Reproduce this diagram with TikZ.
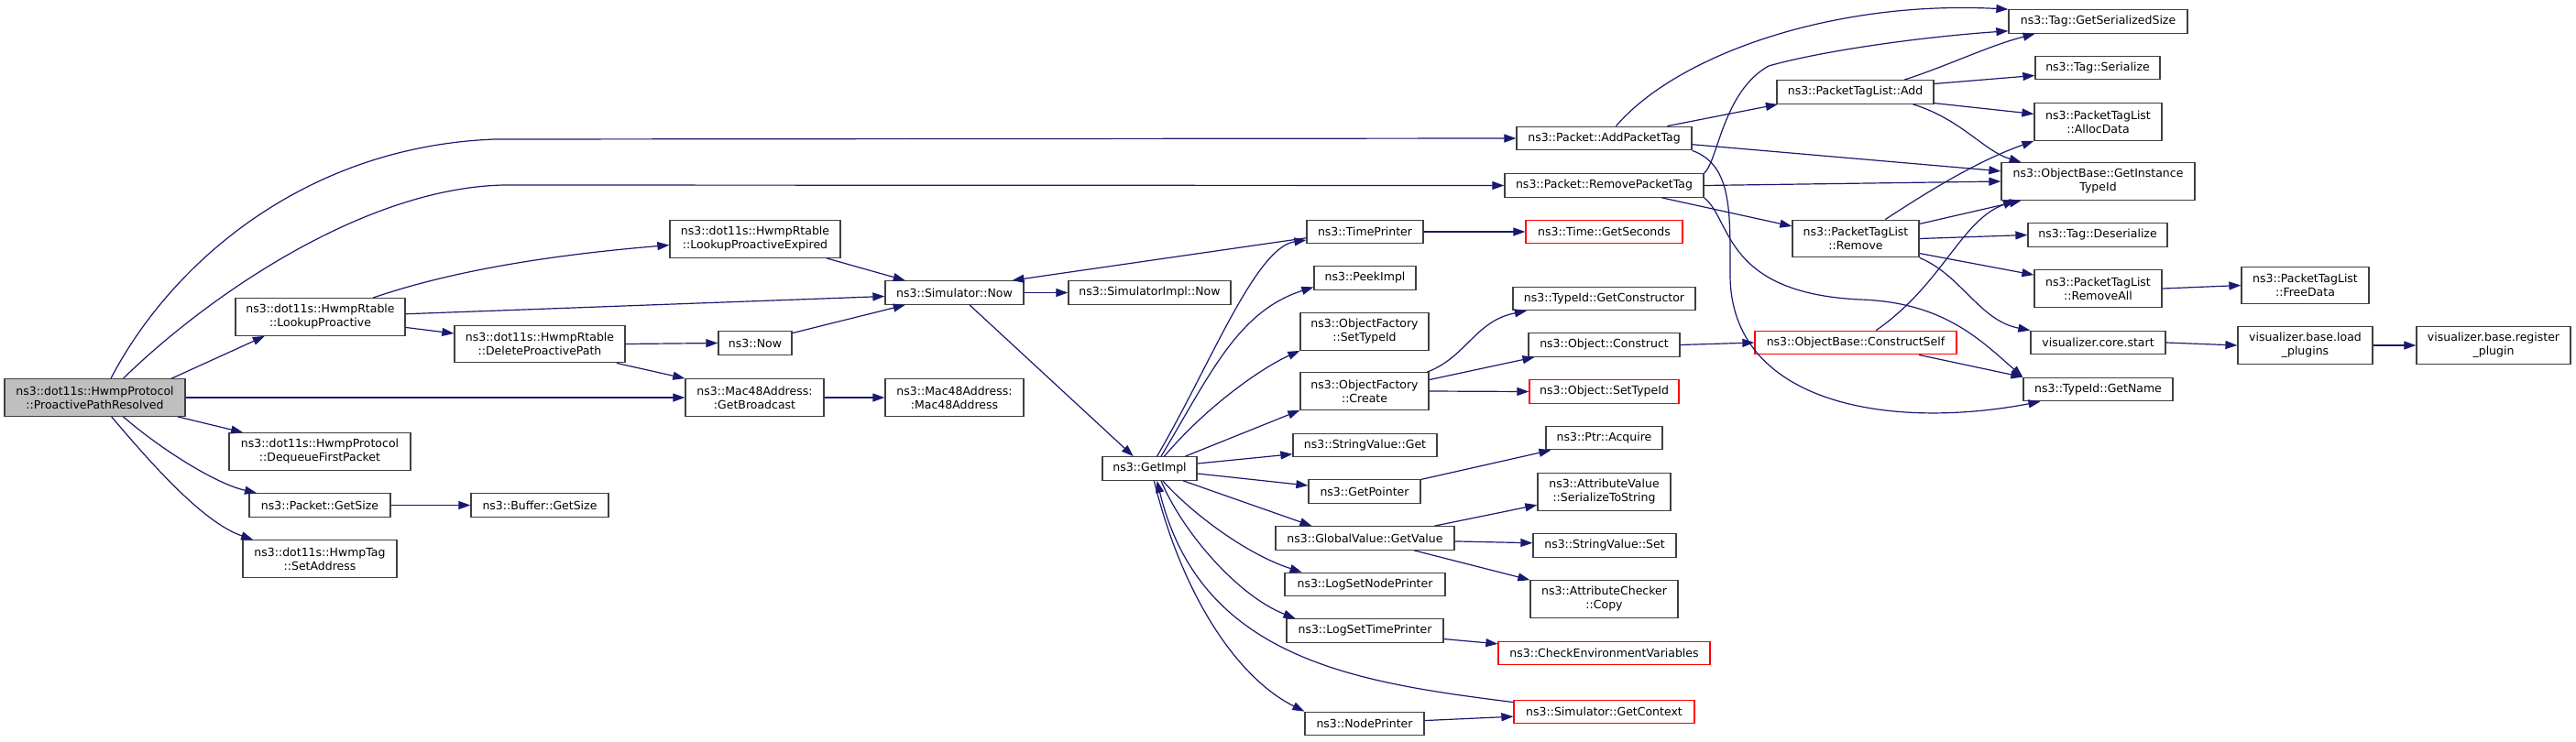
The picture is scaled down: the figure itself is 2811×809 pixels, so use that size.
\documentclass[tikz,border=0pt]{standalone}
\usepackage{fontspec}
\setmainfont{DejaVu Sans}
\usetikzlibrary{arrows.meta}
\definecolor{edgeblue}{HTML}{191970}
\definecolor{boxline}{HTML}{404040}
\definecolor{rootfill}{HTML}{BFBFBF}

\begin{document}
\begin{tikzpicture}[x=1pt, y=-1pt,
    fn/.style={draw=boxline, line width=1.3pt, fill=white, minimum height=25.5pt, inner sep=1pt, font=\fontsize{12.5}{15}\selectfont},
    fn2/.style={fn, minimum height=40.5pt, align=center},
    missing/.style={draw=red},
    call/.style={draw=edgeblue, line width=1.2pt, -{Triangle[length=13pt,width=9pt]}}]
    \useasboundingbox (0,0) rectangle (2811,809);

    % caller and first level
    \node[fn2, fill=rootfill, minimum width=197pt] (resolved) at (103.5,434) {ns3::dot11s::HwmpProtocol\\::ProactivePathResolved};
    \node[fn2, minimum width=185pt] (lookup) at (349.5,346) {ns3::dot11s::HwmpRtable\\::LookupProactive};
    \node[fn2, minimum width=198pt] (dequeue) at (349,493) {ns3::dot11s::HwmpProtocol\\::DequeueFirstPacket};
    \node[fn, minimum width=154pt] (pktsize) at (349,551.5) {ns3::Packet::GetSize};
    \node[fn2, minimum width=168pt] (setaddr) at (349,610) {ns3::dot11s::HwmpTag\\::SetAddress};
    \node[fn2, minimum width=186pt] (expired) at (824,261) {ns3::dot11s::HwmpRtable\\::LookupProactiveExpired};
    \node[fn2, minimum width=186pt] (delpath) at (589,375.5) {ns3::dot11s::HwmpRtable\\::DeleteProactivePath};
    \node[fn, minimum width=80pt] (now) at (824,374.5) {ns3::Now};
    \node[fn2, minimum width=151pt] (bcast) at (823.5,434) {ns3::Mac48Address:\\:GetBroadcast};
    \node[fn, minimum width=150pt] (bufsize) at (589,551.5) {ns3::Buffer::GetSize};
    \node[fn, minimum width=151pt] (simnow) at (1041.5,319.5) {ns3::Simulator::Now};
    \node[fn, minimum width=177pt] (implnow) at (1254.5,319.5) {ns3::SimulatorImpl::Now};
    \node[fn2, minimum width=151pt] (macaddr) at (1041.5,434) {ns3::Mac48Address:\\:Mac48Address};
    \node[fn, minimum width=103pt] (getimpl) at (1254.5,511.5) {ns3::GetImpl};

    % middle column
    \node[fn, minimum width=191pt] (addtag) at (1750.5,151) {ns3::Packet::AddPacketTag};
    \node[fn, minimum width=217pt] (rmtag) at (1750.5,202.5) {ns3::Packet::RemovePacketTag};
    \node[fn, minimum width=127pt] (timepr) at (1489.5,253) {ns3::TimePrinter};
    \node[fn, missing, minimum width=171pt] (seconds) at (1750.5,253) {ns3::Time::GetSeconds};
    \node[fn, minimum width=111pt] (peek) at (1489.5,303.5) {ns3::PeekImpl};
    \node[fn2, minimum width=140pt] (facttype) at (1489,362) {ns3::ObjectFactory\\::SetTypeId};
    \node[fn, minimum width=199pt] (ctor) at (1750.5,326) {ns3::TypeId::GetConstructor};
    \node[fn, minimum width=165pt] (construct) at (1750.5,376.5) {ns3::Object::Construct};
    \node[fn2, minimum width=140pt] (create) at (1489,427) {ns3::ObjectFactory\\::Create};
    \node[fn, missing, minimum width=163pt] (objtype) at (1750.5,427.5) {ns3::Object::SetTypeId};
    \node[fn, minimum width=157pt] (strget) at (1489.5,486) {ns3::StringValue::Get};
    \node[fn, minimum width=127pt] (acquire) at (1750.5,478) {ns3::Ptr::Acquire};
    \node[fn, minimum width=122pt] (getptr) at (1489,536.5) {ns3::GetPointer};
    \node[fn2, minimum width=145pt] (sertostr) at (1750.5,537) {ns3::AttributeValue\\::SerializeToString};
    \node[fn, minimum width=195pt] (getvalue) at (1489.5,587.5) {ns3::GlobalValue::GetValue};
    \node[fn, minimum width=156pt] (strset) at (1751,595.5) {ns3::StringValue::Set};
    \node[fn, minimum width=175pt] (setnodepr) at (1489.5,638) {ns3::LogSetNodePrinter};
    \node[fn2, minimum width=161pt] (copy) at (1750.5,654) {ns3::AttributeChecker\\::Copy};
    \node[fn, minimum width=171pt] (settimepr) at (1489.5,688.5) {ns3::LogSetTimePrinter};
    \node[fn, missing, minimum width=231pt] (checkenv) at (1750.5,713) {ns3::CheckEnvironmentVariables};
    \node[fn, missing, minimum width=197pt] (context) at (1750.5,777) {ns3::Simulator::GetContext};
    \node[fn, minimum width=130pt] (nodepr) at (1489,790) {ns3::NodePrinter};

    % right columns
    \node[fn, minimum width=195pt] (sersize) at (2289.5,23.5) {ns3::Tag::GetSerializedSize};
    \node[fn, minimum width=136pt] (serialize) at (2289,74) {ns3::Tag::Serialize};
    \node[fn, minimum width=171pt] (listadd) at (2024.5,100.5) {ns3::PacketTagList::Add};
    \node[fn2, minimum width=139pt] (alloc) at (2289.5,133) {ns3::PacketTagList\\::AllocData};
    \node[fn2, minimum width=211pt] (insttype) at (2289.5,198) {ns3::ObjectBase::GetInstance\\TypeId};
    \node[fn2, minimum width=138pt] (listrm) at (2025,260.5) {ns3::PacketTagList\\::Remove};
    \node[fn, minimum width=152pt] (deser) at (2289,256.5) {ns3::Tag::Deserialize};
    \node[fn2, minimum width=139pt] (rmall) at (2289.5,315) {ns3::PacketTagList\\::RemoveAll};
    \node[fn, minimum width=147pt] (vstart) at (2289.5,374) {visualizer.core.start};
    \node[fn, missing, minimum width=220pt] (cself) at (2025,374) {ns3::ObjectBase::ConstructSelf};
    \node[fn, minimum width=163pt] (getname) at (2289.5,425) {ns3::TypeId::GetName};
    \node[fn2, minimum width=139pt] (freedata) at (2515.5,311.5) {ns3::PacketTagList\\::FreeData};
    \node[fn2, minimum width=147pt] (loadpl) at (2515.5,377) {visualizer.base.load\\\_plugins};
    \node[fn2, minimum width=168pt] (regpl) at (2721,377) {visualizer.base.register\\\_plugin};

    % calls of the root
    \draw[call] (resolved.50) .. controls (185,290) and (330,160) .. (540,152) -- (addtag.west);
    \draw[call] (resolved.34) .. controls (230,320) and (400,205) .. (550,202) -- (rmtag.west);
    \draw[call] (resolved.14) -- (lookup.199);
    \draw[call] (resolved.east) -- (bcast.west);
    \draw[call] (resolved.-13) -- (dequeue.166);
    \draw[call] (resolved.-34) .. controls (175,490) and (235,528) .. (pktsize.169);
    \draw[call] (resolved.-49) .. controls (160,500) and (220,570) .. (setaddr.164);

    \draw[call] (lookup.20) .. controls (480,300) and (580,280) .. (expired.184);
    \draw[call] (lookup.2) -- (simnow.183);
    \draw[call] (lookup.-7) -- (delpath.173);
    \draw[call] (expired.-15) -- (simnow.166);
    \draw[call] (delpath.east) -- (now.west);
    \draw[call] (delpath.-14) -- (bcast.north west);
    \draw[call] (now.15) -- (simnow.194);
    \draw[call] (pktsize.east) -- (bufsize.west);
    \draw[call] (bcast.east) -- (macaddr.west);
    \draw[call] (simnow.east) -- (implnow.west);
    \draw[call] (simnow.-39) -- (getimpl.143);

    % GetImpl fan
    \draw[call] (getimpl.59) .. controls (1320,400) and (1370,270) .. (timepr.188);
    \draw[call] (getimpl.47) .. controls (1320,410) and (1350,340) .. (peek.190);
    \draw[call] (getimpl.40) .. controls (1320,440) and (1380,400) .. (facttype.south west);
    \draw[call] (getimpl.19) -- (create.south west);
    \draw[call] (getimpl.6) -- (strget.187);
    \draw[call] (getimpl.-6) -- (getptr.174);
    \draw[call] (getimpl.-20) -- (getvalue.167);
    \draw[call] (getimpl.-43) .. controls (1300,560) and (1360,605) .. (setnodepr.169);
    \draw[call] (getimpl.-47) .. controls (1290,580) and (1350,650) .. (settimepr.170);
    \draw[call] (getimpl.-70) .. controls (1290,650) and (1350,740) .. (nodepr.north west);
    \draw[call] (context.174) .. controls (1480,745) and (1310,720) .. (getimpl.-59);
    \draw[call] (timepr.186) -- (simnow.12);
    \draw[call] (timepr.east) -- (seconds.west);
    \draw[call] (nodepr.3) -- (context.183);
    \draw[call] (settimepr.-6) -- (checkenv.175);
    \draw[call] (getvalue.10) -- (sertostr.191);
    \draw[call] (getvalue.-2) -- (strset.178);
    \draw[call] (getvalue.-14) -- (copy.north west);
    \draw[call] (getptr.12) -- (acquire.193);
    \draw[call] (create.east) -- (objtype.west);
    \draw[call] (create.10) -- (construct.190);
    \draw[call] (create.17) .. controls (1600,390) and (1610,350) .. (ctor.189);
    \draw[call] (construct.east) -- (cself.west);
    \draw[call] (cself.31) .. controls (2120,310) and (2140,240) .. (insttype.193);
    \draw[call] (cself.-11) -- (getname.north west);

    % packet tags
    \draw[call] (addtag.46) .. controls (1830,60) and (2000,0) .. (sersize.north west);
    \draw[call] (addtag.11) -- (listadd.189);
    \draw[call] (addtag.-4) -- (insttype.174);
    \draw[call] (addtag.south east) .. controls (1890,180) and (1888,230) .. (1888,300)
        .. controls (1888,440) and (2060,470) .. (getname.192);
    \draw[call] (rmtag.7) .. controls (1875,175) and (1880,100) .. (1930,72)
        .. controls (1990,55) and (2100,40) .. (sersize.186);
    \draw[call] (rmtag.east) -- (insttype.west);
    \draw[call] (rmtag.-12) -- (listrm.169);
    \draw[call] (rmtag.-7) .. controls (1890,240) and (1880,320) .. (2030,327)
        .. controls (2120,330) and (2160,370) .. (getname.north west);
    \draw[call] (listadd.14) .. controls (2130,70) and (2170,50) .. (sersize.191);
    \draw[call] (listadd.6) -- (serialize.187);
    \draw[call] (listadd.-8) -- (alloc.173);
    \draw[call] (listadd.-12) .. controls (2140,130) and (2165,165) .. (insttype.166);
    \draw[call] (listrm.33) .. controls (2110,205) and (2160,175) .. (alloc.south west);
    \draw[call] (listrm.13) -- (insttype.194);
    \draw[call] (listrm.east) -- (deser.west);
    \draw[call] (listrm.-13) -- (rmall.168);
    \draw[call] (listrm.south east) .. controls (2140,300) and (2160,350) .. (vstart.north west);
    \draw[call] (rmall.east) -- (freedata.west);
    \draw[call] (vstart.east) -- (loadpl.west);
    \draw[call] (loadpl.east) -- (regpl.west);
\end{tikzpicture}
\end{document}
